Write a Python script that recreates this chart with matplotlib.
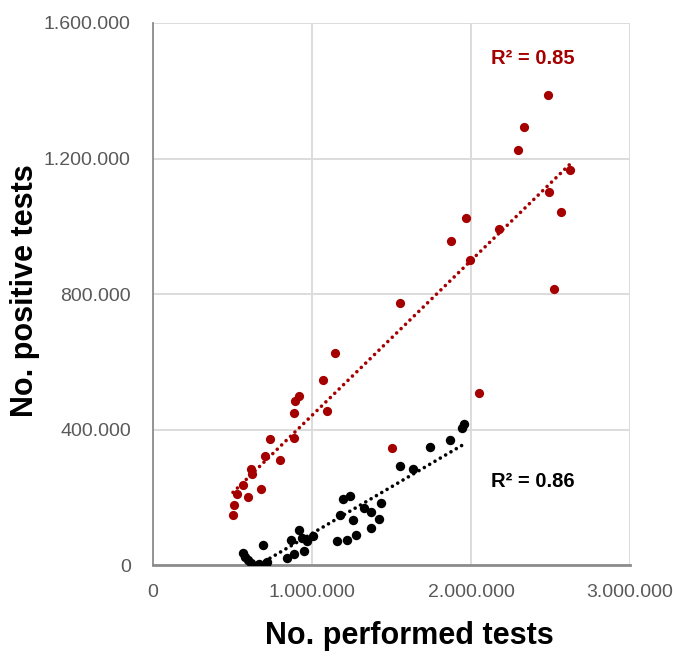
import numpy as np
import matplotlib
matplotlib.use("Agg")
from matplotlib import pyplot as plt
from matplotlib.ticker import FuncFormatter

# red series (performed tests, positive tests)
red_x = [503000, 510000, 529000, 564000, 597000, 616000, 624000, 678000,
         705000, 737000, 799000, 888000, 888000, 890000, 918000, 1066000,
         1093000, 1142000, 1502000, 1554000, 1875000, 1970000, 1995000,
         2052000, 2177000, 2297000, 2335000, 2486000, 2492000, 2524000,
         2568000, 2624000]
red_y = [148000, 178000, 210000, 237000, 202000, 282000, 268000, 225000,
         323000, 371000, 311000, 376000, 450000, 484000, 499000, 545000,
         456000, 627000, 344000, 774000, 955000, 1023000, 899000,
         507000, 993000, 1224000, 1292000, 1386000, 1100000, 816000,
         1043000, 1165000]

# black series
blk_x = [568000, 581000, 600000, 617000, 669000, 690000, 715000, 841000,
         866000, 889000, 915000, 940000, 950000, 967000, 1009000, 1154000,
         1173000, 1192000, 1223000, 1240000, 1257000, 1278000, 1324000,
         1370000, 1370000, 1418000, 1433000, 1554000, 1634000, 1739000,
         1867000, 1945000, 1957000]
blk_y = [35000, 23000, 15000, 7000, 2000, 59000, 10000, 20000,
         74000, 33000, 103000, 80000, 42000, 71000, 86000, 72000,
         148000, 194000, 73000, 204000, 133000, 89000, 168000,
         156000, 110000, 137000, 182000, 291000, 283000, 347000,
         369000, 403000, 417000]

r2_labels = ["R\u00b2 = 0.85", "R\u00b2 = 0.86"]

RED = "#a50000"
plt.rcParams['font.family'] = ['Liberation Sans', 'DejaVu Sans']

fig = plt.figure(figsize=(6.73, 6.57), dpi=100)
ax = fig.add_axes([0.2273, 0.140, 0.709, 0.825])

ax.scatter(red_x, red_y, s=44, color=RED, zorder=3, linewidths=0)
ax.scatter(blk_x, blk_y, s=46, color="black", zorder=3, linewidths=0)

# linear trend lines
for xs, ys, c in [(red_x, red_y, RED), (blk_x, blk_y, "black")]:
    k, b = np.polyfit(xs, ys, 1)
    xx = np.array([min(xs), max(xs)])
    ax.plot(xx, k * xx + b, color=c, lw=2.6, linestyle=(0, (0.01, 1.7)),
            dash_capstyle='round', zorder=2)

ax.set_xlim(0, 3000000)
ax.set_ylim(0, 1600000)
ax.set_xticks([0, 1000000, 2000000, 3000000])
ax.set_yticks([0, 400000, 800000, 1200000, 1600000])
fmt = FuncFormatter(lambda v, p: f"{v:,.0f}".replace(',', '.'))
ax.xaxis.set_major_formatter(fmt)
ax.yaxis.set_major_formatter(fmt)
ax.tick_params(length=0, labelsize=14, labelcolor="#595959")
ax.tick_params(axis='x', pad=14)
ax.tick_params(axis='y', pad=16)

ax.grid(True, color="#d9d9d9", lw=1.3)
ax.set_axisbelow(True)
for s in ['top', 'right']:
    ax.spines[s].set_visible(False)
ax.spines['left'].set_color("#8c8c8c")
ax.spines['left'].set_linewidth(1.3)
ax.spines['bottom'].set_color("#8c8c8c")
ax.spines['bottom'].set_linewidth(2)

ax.text(0.795, 0.935, r2_labels[0], transform=ax.transAxes, color=RED,
        fontsize=14.5, fontweight='bold', ha='center', va='center')
ax.text(0.795, 0.155, r2_labels[1], transform=ax.transAxes, color="black",
        fontsize=14.5, fontweight='bold', ha='center', va='center')

fig.text(0.609, 0.032, "No. performed tests", fontsize=22,
         fontweight='bold', ha='center', va='center')
fig.text(0.037, 0.558, "No. positive tests", fontsize=22,
         fontweight='bold', ha='center', va='center', rotation=90)

fig.savefig("out.png", dpi=100)
